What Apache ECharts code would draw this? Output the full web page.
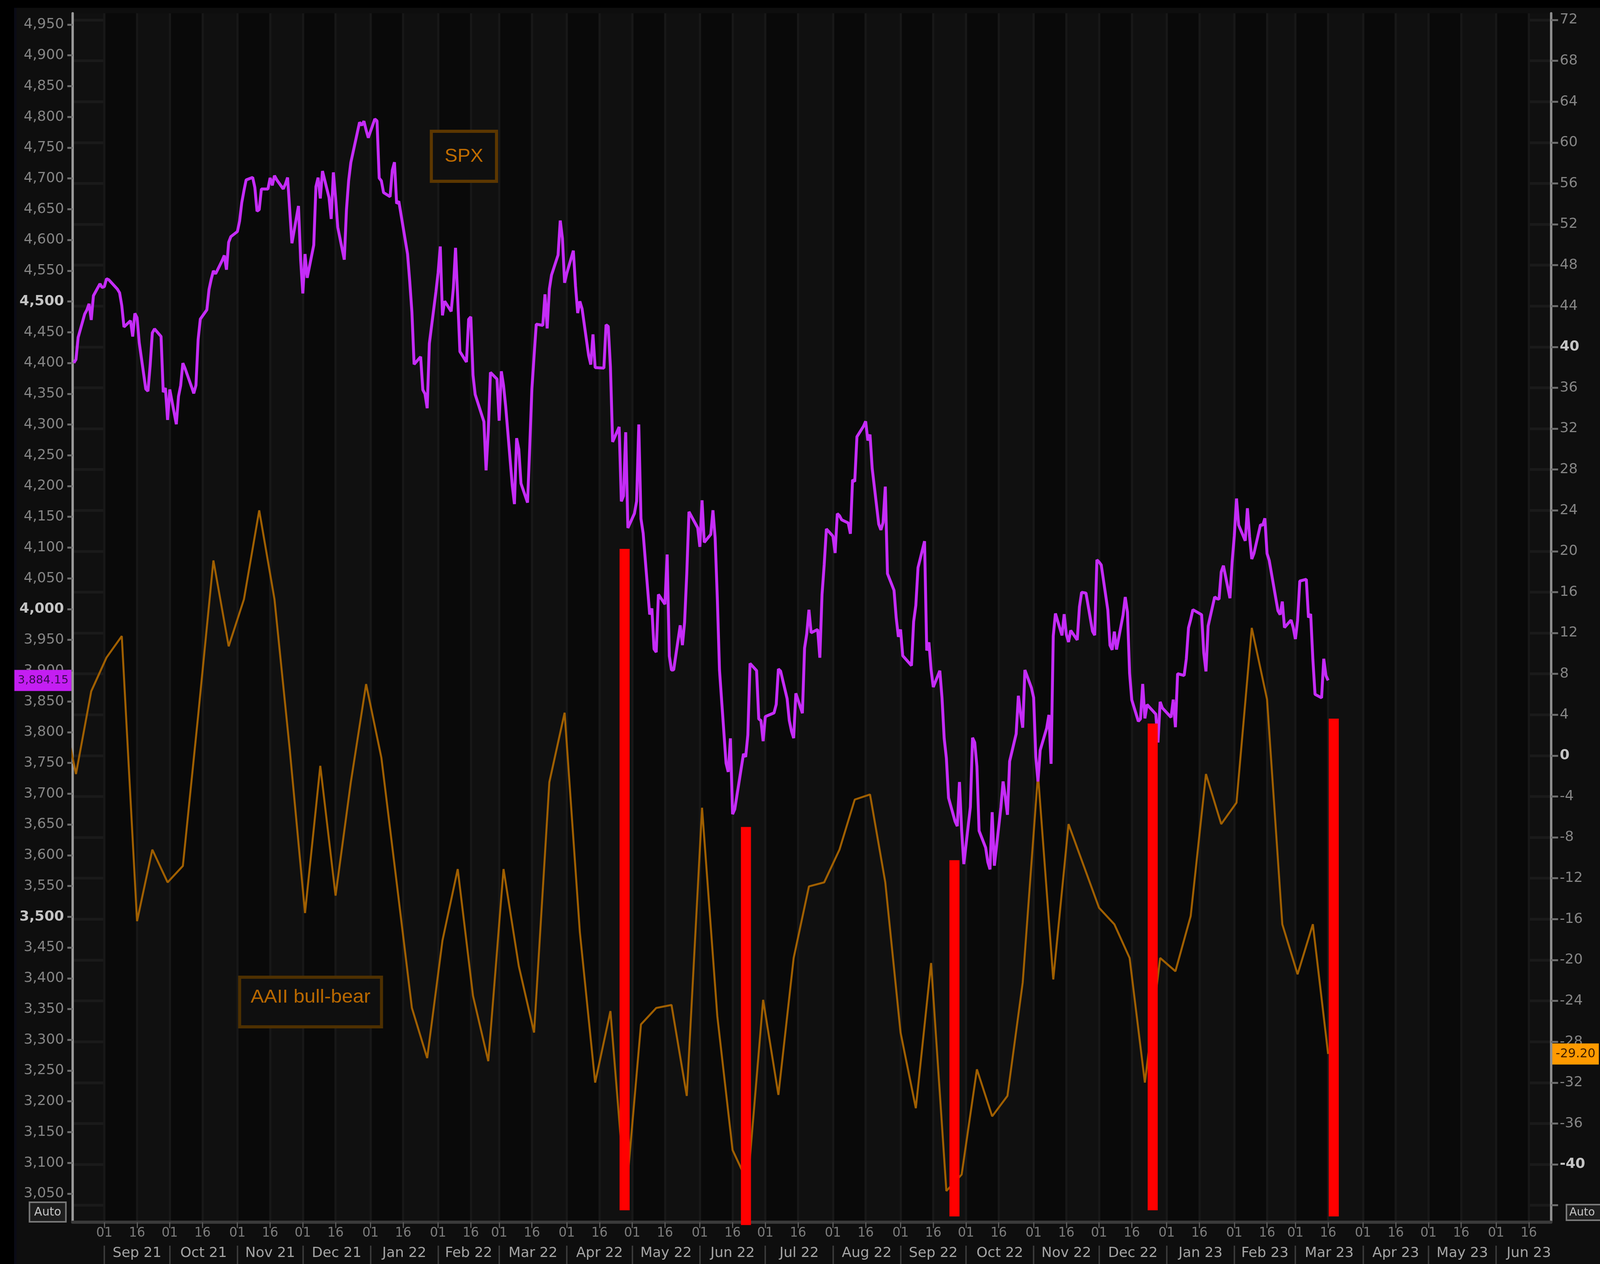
<!DOCTYPE html>
<html><head><meta charset="utf-8">
<script src="https://cdn.jsdelivr.net/npm/echarts@6/dist/echarts.min.js"></script>
<style>html,body{margin:0;padding:0;background:#000;width:100%;height:100%;overflow:hidden;}#c{width:100vw;height:100vh;}</style>
</head><body><div id="c"></div>
<script>
// ---- SPX daily closes (trading days, grouped by month) ----
const spxDays = [
 '2021-08:18,19,20,23,24,25,26,27,30,31',
 '2021-09:1,2,3,7,8,9,10,13,14,15,16,17,20,21,22,23,24,27,28,29,30',
 '2021-10:1,4,5,6,7,8,11,12,13,14,15,18,19,20,21,22,25,26,27,28,29',
 '2021-11:1,2,3,4,5,8,9,10,11,12,15,16,17,18,19,22,23,24,26,29,30',
 '2021-12:1,2,3,6,7,8,9,10,13,14,15,16,17,20,21,22,23,27,28,29,30,31',
 '2022-01:3,4,5,6,7,10,11,12,13,14,18,19,20,21,24,25,26,27,28,31',
 '2022-02:1,2,3,4,7,8,9,10,11,14,15,16,17,18,22,23,24,25,28',
 '2022-03:1,2,3,4,7,8,9,10,11,14,15,16,17,18,21,22,23,24,25,28,29,30,31',
 '2022-04:1,4,5,6,7,8,11,12,13,14,18,19,20,21,22,25,26,27,28,29',
 '2022-05:2,3,4,5,6,9,10,11,12,13,16,17,18,19,20,23,24,25,26,27,31',
 '2022-06:1,2,3,6,7,8,9,10,13,14,15,16,17,21,22,23,24,27,28,29,30',
 '2022-07:1,5,6,7,8,11,12,13,14,15,18,19,20,21,22,25,26,27,28,29',
 '2022-08:1,2,3,4,5,8,9,10,11,12,15,16,17,18,19,22,23,24,25,26,29,30,31',
 '2022-09:1,2,6,7,8,9,12,13,14,15,16,19,20,21,22,23,26,27,28,29,30',
 '2022-10:3,4,5,6,7,10,11,12,13,14,17,18,19,20,21,24,25,26,27,28,31',
 '2022-11:1,2,3,4,7,8,9,10,11,14,15,16,17,18,21,22,23,25,28,29,30',
 '2022-12:1,2,5,6,7,8,9,12,13,14,15,16,19,20,21,22,23,27,28,29,30',
 '2023-01:3,4,5,6,9,10,11,12,13,17,18,19,20,23,24,25,26,27,30,31',
 '2023-02:1,2,3,6,7,8,9,10,13,14,15,16,17,21,22,23,24,27,28',
 '2023-03:1,2,3,6,7,8,9,10,13,14,15,16'
];
const spxValues = [
 4400.27,4405.80,4441.67,4479.53,4486.23,4496.19,4470.00,4509.37,4528.79,4522.68,
 4524.09,4536.95,4535.43,4520.03,4514.07,4493.28,4458.58,4468.73,4443.05,4480.70,4473.75,4432.99,4357.73,4354.19,4395.64,4448.98,4455.48,4443.11,4352.63,4359.46,4307.54,
 4357.04,4300.46,4345.72,4363.55,4399.76,4391.34,4361.19,4350.65,4363.80,4438.26,4471.37,4486.46,4519.63,4536.19,4549.78,4544.90,4566.48,4574.79,4551.68,4596.42,4605.38,
 4613.67,4630.65,4660.57,4680.06,4697.53,4701.70,4685.25,4646.71,4649.27,4682.85,4682.80,4700.90,4688.67,4704.54,4697.96,4682.94,4690.70,4701.46,4594.62,4655.27,4567.00,
 4513.04,4577.10,4538.43,4591.67,4686.75,4701.21,4667.45,4712.02,4668.97,4634.09,4709.85,4668.67,4620.64,4568.02,4649.23,4696.56,4725.79,4791.19,4786.35,4793.06,4778.73,4766.18,
 4796.56,4793.54,4700.58,4696.05,4677.03,4670.29,4713.07,4726.35,4659.03,4662.85,4577.11,4532.76,4482.73,4397.94,4410.13,4356.45,4349.93,4326.51,4431.85,4515.55,
 4546.54,4589.38,4477.44,4500.53,4483.87,4521.54,4587.18,4504.08,4418.64,4401.67,4471.07,4475.01,4380.26,4348.87,4304.76,4225.50,4288.70,4384.65,4373.94,
 4306.26,4386.54,4363.49,4328.87,4201.09,4170.70,4277.88,4259.52,4204.31,4173.11,4262.45,4357.86,4411.67,4463.12,4461.18,4511.61,4456.24,4520.16,4543.06,4575.52,4631.60,4602.45,4530.41,
 4545.86,4582.64,4525.12,4481.15,4500.21,4488.28,4412.53,4397.45,4446.59,4392.59,4391.69,4462.21,4459.45,4393.66,4271.78,4296.12,4175.20,4183.96,4287.50,4131.93,
 4155.38,4175.48,4300.17,4146.87,4123.34,3991.24,4001.05,3935.18,3930.08,4023.89,4008.01,4088.85,3923.68,3900.79,3901.36,3973.75,3941.48,3978.73,4057.84,4158.24,4132.15,
 4101.23,4176.82,4108.54,4121.43,4160.68,4115.77,4017.82,3900.86,3749.63,3735.48,3789.99,3666.77,3674.84,3764.79,3759.89,3795.73,3911.74,3900.11,3821.55,3818.83,3785.38,
 3825.33,3831.39,3845.08,3902.62,3899.38,3854.43,3818.80,3801.78,3790.38,3863.16,3830.85,3936.69,3959.90,3998.95,3961.63,3966.84,3921.05,4023.61,4072.43,4130.29,
 4118.63,4091.19,4155.17,4151.94,4145.19,4140.06,4122.47,4210.24,4207.27,4280.15,4297.14,4305.20,4274.04,4283.74,4228.48,4137.99,4128.73,4140.77,4199.12,4057.66,4030.61,3986.16,3955.00,
 3966.85,3924.26,3908.19,3979.87,4006.18,4067.36,4110.41,3932.69,3946.01,3901.35,3873.33,3899.89,3855.93,3789.93,3757.99,3693.23,3655.04,3647.29,3719.04,3640.47,3585.62,
 3678.43,3790.93,3783.28,3744.52,3639.66,3612.39,3588.84,3577.03,3669.91,3583.07,3677.95,3719.98,3695.16,3665.78,3752.75,3797.34,3859.11,3830.60,3807.30,3901.06,3871.98,
 3856.10,3759.69,3719.89,3770.55,3806.80,3828.11,3748.57,3956.37,3992.93,3957.25,3991.73,3958.79,3946.56,3965.34,3949.94,4003.58,4027.26,4026.12,3963.94,3957.63,4080.11,
 4076.57,4071.70,3998.84,3941.26,3933.92,3963.51,3934.38,3990.56,4019.65,3995.32,3895.75,3852.36,3817.66,3821.62,3878.44,3822.39,3844.82,3829.25,3783.22,3849.28,3839.50,
 3824.14,3852.97,3808.10,3895.08,3892.09,3919.25,3969.61,3983.17,3999.09,3990.97,3928.86,3898.85,3972.61,4019.81,4016.95,4016.22,4060.43,4070.56,4017.77,4076.60,
 4119.21,4179.76,4136.48,4111.08,4164.00,4117.86,4081.50,4090.46,4137.29,4136.13,4147.60,4090.41,4079.09,3997.34,3991.05,4012.32,3970.04,3982.24,3970.15,
 3951.39,3981.35,4045.64,4048.42,3986.37,3992.01,3918.32,3861.59,3855.76,3919.29,3891.93,3884.15
];

// ---- AAII bull-bear spread, weekly (Thursdays from aaiiStart) ----
const aaiiStart = '2021-08-12';
const aaiiValues = [
 5.5,-1.8,6.3,
 9.6,11.7,-16.2,-9.2,-12.4,
 -10.8,3.9,19.1,10.7,
 15.3,24.0,15.3,0.6,
 -15.4,-1.0,-13.7,-2.6,7.0,
 -0.2,-12.4,-24.7,-29.6,
 -18.1,-11.1,-23.5,-29.9,
 -11.1,-20.6,-27.1,-2.6,4.2,
 -17.3,-32.0,-25.0,-43.5,
 -26.3,-24.7,-24.4,-33.3,
 -5.1,-25.5,-38.6,-41.8,-23.9,
 -33.2,-19.8,-12.8,-12.4,
 -9.2,-4.3,-3.8,-12.4,
 -27.1,-34.5,-20.3,-42.6,-41.0,
 -30.7,-35.3,-33.3,-22.2,
 -1.8,-21.9,-6.7,-10.8,
 -14.9,-16.5,-19.8,-32.0,-19.8,
 -21.1,-15.7,-1.8,-6.7,
 -4.6,12.5,5.5,-16.5,
 -21.4,-16.5,-29.2
];

// ---- red highlight bars (date, bottom, top on SPX scale) ----
const markDates = ['2022-04-27T12:00:00Z','2022-06-22T03:00:00Z','2022-09-25T17:00:00Z','2022-12-25T14:00:00Z','2023-03-18T14:00:00Z'];
const markBottoms = [3023, 2999, 3013, 3023, 3013];
const markTops = [4098, 3646, 3592, 3814, 3822];

// ---- tick labels ----
const leftTicks = [3050,3100,3150,3200,3250,3300,3350,3400,3450,3500,3550,3600,3650,3700,3750,3800,3850,3900,3950,4000,4050,4100,4150,4200,4250,4300,4350,4400,4450,4500,4550,4600,4650,4700,4750,4800,4850,4900,4950];
const rightTicks = [-44,-40,-36,-32,-28,-24,-20,-16,-12,-8,-4,0,4,8,12,16,20,24,28,32,36,40,44,48,52,56,60,64,68,72];
const rightLabels = [-40,-36,-32,-28,-24,-20,-16,-12,-8,-4,0,4,8,12,16,20,24,28,32,36,40,44,48,52,56,60,64,68,72];
const monthNames = ['Jan','Feb','Mar','Apr','May','Jun','Jul','Aug','Sep','Oct','Nov','Dec'];
const xMin = Date.UTC(2021, 7, 17, 11);
const xMax = Date.UTC(2023, 5, 26, 3);
const spxMin = 3003.6, spxMax = 4968.4;
const aaiiMin = -45.66, aaiiMax = 72.65;

// ---- build ----
const DAY = 86400000;
const ts = s => Date.parse(s.length === 10 ? s + 'T00:00:00Z' : s);
const spxDates = [];
spxDays.forEach(g => { const [ym, ds] = g.split(':'); ds.split(',').forEach(d => spxDates.push(ym + '-' + (d.length < 2 ? '0' + d : d))); });
const spxData = spxDates.map((d, i) => [ts(d), spxValues[i]]);
const aaiiData = aaiiValues.map((v, i) => [ts(aaiiStart) + i * 7 * DAY, v]);
const markData = markDates.map((d, i) => [ts(d), markBottoms[i], markTops[i]]);

const dayTicks = [], monthStarts = [], monthMids = [];
for (let y = 2021, m = 7; ; m++) {
  if (m > 11) { m = 0; y++; }
  const a = Date.UTC(y, m, 1), b = Date.UTC(y, m, 16), n = Date.UTC(y, m + 1, 1);
  [a, b].forEach(t => { if (t >= xMin && t <= xMax) dayTicks.push(t); });
  if (a >= xMin && a <= xMax) monthStarts.push(a);
  const mid = (a + n) / 2;
  if (mid >= xMin && mid <= xMax) monthMids.push(mid);
  if (y === 2023 && m === 6) break;
}
const commas = v => { const p = String(v).split('.'); p[0] = p[0].replace(/\B(?=(\d{3})+(?!\d))/g, ','); return p.join('.'); };
const lastSpx = spxValues[spxValues.length - 1];
const lastAaii = aaiiValues[aaiiValues.length - 1];

// layout designed for 6677 x 3235, scaled to the actual viewport
const el = document.getElementById('c');
const W = el.clientWidth || window.innerWidth || 6677;
const H = el.clientHeight || window.innerHeight || 3235;
const sx = W / 6677, sy = H / 3235, sg = Math.sqrt(sx * sy);
const X = v => v * sx, Y = v => v * sy, G = v => v * sg;

const labelFont = 'DejaVu Sans';
const chart = echarts.init(el, null, {width: W, height: H});
chart.setOption({
  animation: false,
  backgroundColor: '#0e0e0e',
  grid: {left: X(303), right: X(179), top: Y(34), bottom: Y(107), show: true, backgroundColor: '#101010', borderWidth: 0},
  xAxis: [{
    type: 'value', min: xMin, max: xMax, position: 'bottom',
    axisLine: {show: true, onZero: false, lineStyle: {color: '#3a3a3a', width: Y(8)}},
    axisTick: {show: true, customValues: dayTicks, length: Y(15), lineStyle: {color: '#5a5a5a', width: X(5)}},
    axisLabel: {customValues: dayTicks, formatter: v => { const d = new Date(v).getUTCDate(); return d < 10 ? '0' + d : String(d); },
      color: '#7c7c7c', fontFamily: labelFont, fontSize: G(42), margin: Y(12)},
    splitLine: {show: true, lineStyle: {color: '#181818', width: X(9)}},
    splitArea: {show: true, areaStyle: {color: ['#090909', '#101010']}}
  }, {
    type: 'value', min: xMin, max: xMax, position: 'bottom', offset: Y(60),
    axisLine: {show: false, onZero: false},
    axisTick: {show: true, customValues: monthStarts, length: Y(47), lineStyle: {color: '#3c3c3c', width: X(6)}},
    axisLabel: {customValues: monthMids, formatter: v => { const d = new Date(v); return monthNames[d.getUTCMonth()] + ' ' + String(d.getUTCFullYear()).slice(2); },
      color: '#a4a4a4', fontFamily: labelFont, fontSize: G(46), margin: Y(2)},
    splitLine: {show: false}
  }],
  yAxis: [{
    type: 'value', position: 'left', min: spxMin, max: spxMax,
    axisLine: {show: true, lineStyle: {color: '#9a9a9a', width: X(10)}},
    axisTick: {show: true, customValues: leftTicks, length: X(22), lineStyle: {color: '#6c6c6c', width: Y(5)}},
    axisLabel: {customValues: leftTicks, formatter: v => v % 500 === 0 ? '{b|' + commas(v) + '}' : commas(v),
      color: '#858585', fontFamily: labelFont, fontSize: G(46), margin: X(36),
      rich: {b: {color: '#c4c4c4', fontWeight: 'bold', fontFamily: labelFont, fontSize: G(46)}}},
    splitLine: {show: false}
  }, {
    type: 'value', position: 'right', min: aaiiMin, max: aaiiMax,
    axisLine: {show: true, lineStyle: {color: '#8e8e8e', width: X(10)}},
    axisTick: {show: true, customValues: rightTicks, length: X(30), lineStyle: {color: '#6c6c6c', width: Y(5)}},
    axisLabel: {customValues: rightLabels, formatter: v => v % 40 === 0 ? '{b|' + v + '}' : String(v),
      color: '#858585', fontFamily: labelFont, fontSize: G(46), margin: X(37),
      rich: {b: {color: '#c4c4c4', fontWeight: 'bold', fontFamily: labelFont, fontSize: G(46)}}},
    splitLine: {show: true, lineStyle: {color: '#1a1a1a', width: Y(7)}}
  }, {
    type: 'value', position: 'left', min: spxMin, max: spxMax, z: 10,
    axisLine: {show: false}, axisTick: {show: false}, splitLine: {show: false},
    axisLabel: {customValues: [lastSpx], formatter: v => commas(v.toFixed(2)), margin: X(5),
      color: '#3a0852', backgroundColor: '#c41ef2', fontFamily: labelFont, fontSize: Math.min(G(44), X(214) / 4.5),
      width: X(214), overflow: 'truncate', align: 'right', lineHeight: Y(54), padding: [0, X(12), 0, X(12)]}
  }, {
    type: 'value', position: 'right', min: aaiiMin, max: aaiiMax, z: 10,
    axisLine: {show: false}, axisTick: {show: false}, splitLine: {show: false},
    axisLabel: {customValues: [lastAaii], formatter: v => v.toFixed(2), margin: X(6),
      color: '#3e1c00', backgroundColor: '#ff9a00', fontFamily: labelFont, fontSize: Math.min(G(44), X(170) / 3.3),
      width: X(170), align: 'left', lineHeight: Y(54), padding: [0, X(10), 0, X(14)]}
  }],
  series: [{
    name: 'AAII bull-bear', type: 'line', xAxisIndex: 0, yAxisIndex: 1, data: aaiiData,
    showSymbol: false, lineStyle: {color: '#a05f00', width: G(6.5)}, z: 2
  }, {
    name: 'SPX', type: 'line', xAxisIndex: 0, yAxisIndex: 0, data: spxData,
    showSymbol: false, lineStyle: {color: '#c52cf8', width: G(9.5)}, z: 3
  }, {
    name: 'marks', type: 'custom', xAxisIndex: 0, yAxisIndex: 0, data: markData, z: 4,
    encode: {x: 0, y: [1, 2]},
    renderItem: (params, api) => {
      const top = api.coord([api.value(0), api.value(2)]);
      const bot = api.coord([api.value(0), api.value(1)]);
      const w = X(42);
      return {type: 'rect', shape: {x: top[0] - w / 2, y: top[1], width: w, height: bot[1] - top[1]}, style: {fill: '#ff0000'}};
    }
  }],
  graphic: [
    {type: 'rect', x: 0, y: 0, z: 0, shape: {width: X(59), height: H}, style: {fill: '#000'}, silent: true},
    {type: 'rect', x: 0, y: 0, z: 0, shape: {width: W, height: Y(20)}, style: {fill: '#000'}, silent: true},
    {type: 'rect', x: X(59), y: Y(20), z: 0, shape: {width: X(10), height: H}, style: {fill: '#0a0b16'}, silent: true},
    {type: 'group', x: X(1795), y: Y(331), children: [
      {type: 'rect', z: 100, shape: {x: X(5), y: Y(5), width: X(272), height: Y(128)}, style: {fill: '#0f0f0f', stroke: '#5c3700', lineWidth: G(10)}},
      {type: 'text', z: 101, x: X(141), y: Y(70), scaleX: 1.3 * sx / sg, style: {text: 'SPX', fill: '#c06c00', fontFamily: 'Liberation Sans', fontSize: G(62), align: 'center', verticalAlign: 'middle'}}
    ]},
    {type: 'group', x: X(995), y: Y(2496), children: [
      {type: 'rect', z: 100, shape: {x: X(5), y: Y(5), width: X(592), height: Y(127)}, style: {fill: '#0f0f0f', stroke: '#4e3000', lineWidth: G(10)}},
      {type: 'text', z: 101, x: X(301), y: Y(57), scaleX: 1.33 * sx / sg, style: {text: 'AAII bull-bear', fill: '#b86800', fontFamily: 'Liberation Sans', fontSize: G(62), align: 'center', verticalAlign: 'middle'}}
    ]},
    {type: 'group', x: X(121), y: Y(3075), children: [
      {type: 'rect', z: 100, shape: {x: X(2), y: Y(2), width: X(152), height: Y(50)}, style: {fill: '#1e1e1e', stroke: '#7a7a7a', lineWidth: G(5)}},
      {type: 'text', z: 101, x: X(78), y: Y(28), style: {text: 'Auto', fill: '#c8c8c8', fontFamily: labelFont, fontSize: G(38), align: 'center', verticalAlign: 'middle'}}
    ]},
    {type: 'group', x: X(6535), y: Y(3081), children: [
      {type: 'rect', z: 100, shape: {x: X(2), y: Y(2), width: X(160), height: Y(40)}, style: {fill: '#1e1e1e', stroke: '#7a7a7a', lineWidth: G(5)}},
      {type: 'text', z: 101, x: X(14), y: Y(23), style: {text: 'Auto', fill: '#c8c8c8', fontFamily: labelFont, fontSize: G(36), align: 'left', verticalAlign: 'middle'}}
    ]}
  ]
});
</script></body></html>
